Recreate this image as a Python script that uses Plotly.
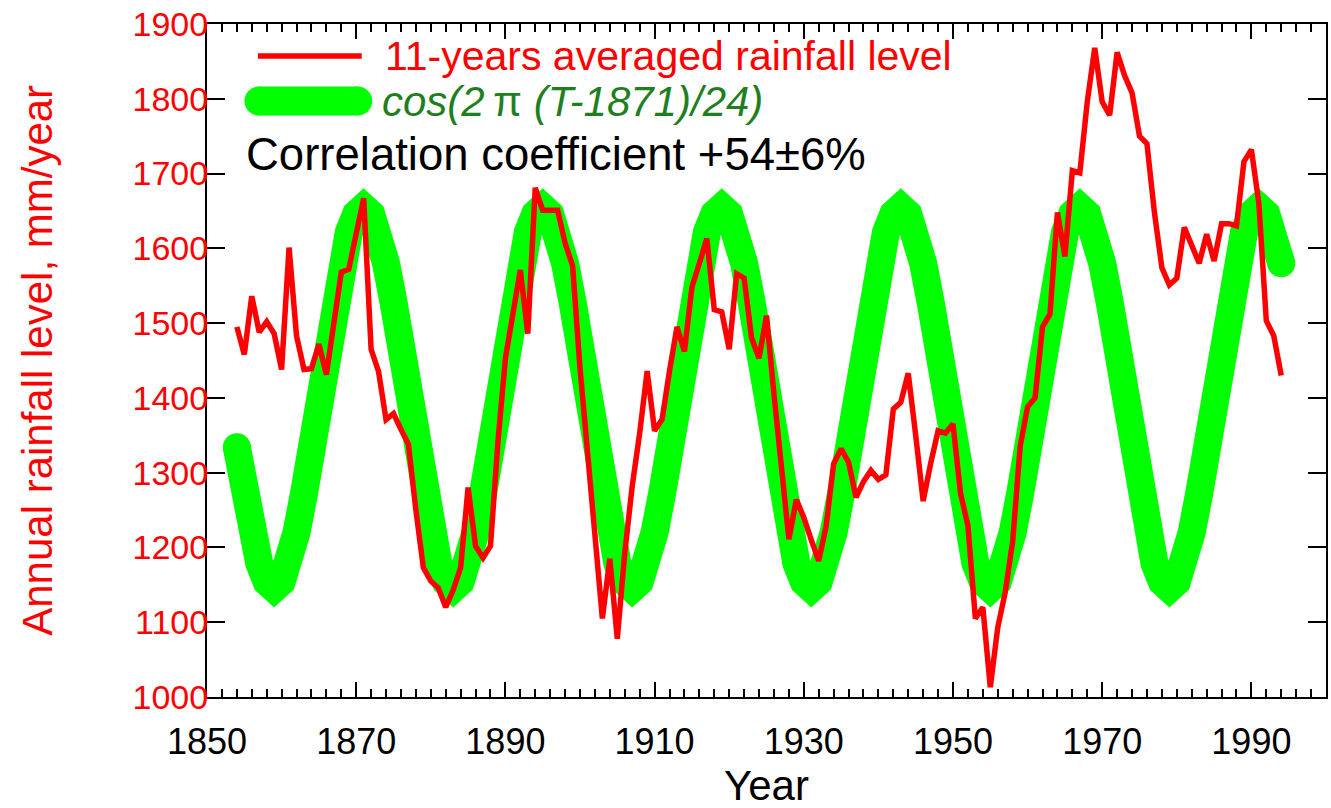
import plotly.graph_objects as go

# ---------------- data ----------------
years = list(range(1854, 1995))

rainfall_11yr = [
    1495, 1458, 1536, 1488, 1502, 1486, 1438, 1601, 1483, 1438,   # 1854-1863
    1439, 1472, 1431, 1505, 1568, 1572, 1619, 1667, 1465, 1435,   # 1864-1873
    1371, 1379, 1358, 1338, 1250, 1173, 1155, 1146, 1120, 1143,   # 1874-1883
    1173, 1280, 1202, 1186, 1202, 1341, 1453, 1512, 1571, 1486,   # 1884-1893
    1681, 1651, 1651, 1651, 1607, 1577, 1440, 1330, 1220, 1105,   # 1894-1903
    1185, 1078, 1193, 1282, 1353, 1436, 1356, 1371, 1436, 1495,   # 1904-1913
    1462, 1548, 1580, 1613, 1518, 1515, 1465, 1566, 1560, 1480,   # 1914-1923
    1453, 1510, 1405, 1300, 1211, 1264, 1240, 1210, 1182, 1229,   # 1924-1933
    1312, 1332, 1314, 1267, 1288, 1303, 1291, 1297, 1385, 1394,   # 1934-1943
    1433, 1350, 1262, 1312, 1356, 1353, 1365, 1273, 1229, 1105,   # 1944-1953
    1120, 1013, 1093, 1140, 1208, 1335, 1388, 1400, 1495, 1512,   # 1954-1963
    1648, 1589, 1704, 1701, 1796, 1868, 1796, 1778, 1862, 1831,   # 1964-1973
    1808, 1750, 1740, 1648, 1574, 1551, 1560, 1628, 1604, 1580,   # 1974-1983
    1619, 1583, 1633, 1633, 1630, 1716, 1732, 1660, 1503, 1483,   # 1984-1993
    1430,                                                         # 1994
]

cos_curve = [
    1334, 1272, 1220, 1179, 1154, 1145, 1154, 1179, 1220, 1272, 1334, 1400,   # 1854-1865
    1466, 1528, 1580, 1621, 1646, 1655, 1646, 1621, 1580, 1528, 1466, 1400,   # 1866-1877
    1334, 1272, 1220, 1179, 1154, 1145, 1154, 1179, 1220, 1272, 1334, 1400,   # 1878-1889
    1466, 1528, 1580, 1621, 1646, 1655, 1646, 1621, 1580, 1528, 1466, 1400,   # 1890-1901
    1334, 1272, 1220, 1179, 1154, 1145, 1154, 1179, 1220, 1272, 1334, 1400,   # 1902-1913
    1466, 1528, 1580, 1621, 1646, 1655, 1646, 1621, 1580, 1528, 1466, 1400,   # 1914-1925
    1334, 1272, 1220, 1179, 1154, 1145, 1154, 1179, 1220, 1272, 1334, 1400,   # 1926-1937
    1466, 1528, 1580, 1621, 1646, 1655, 1646, 1621, 1580, 1528, 1466, 1400,   # 1938-1949
    1334, 1272, 1220, 1179, 1154, 1145, 1154, 1179, 1220, 1272, 1334, 1400,   # 1950-1961
    1466, 1528, 1580, 1621, 1646, 1655, 1646, 1621, 1580, 1528, 1466, 1400,   # 1962-1973
    1334, 1272, 1220, 1179, 1154, 1145, 1154, 1179, 1220, 1272, 1334, 1400,   # 1974-1985
    1466, 1528, 1580, 1621, 1646, 1655, 1646, 1621, 1580,                     # 1986-1994
]

x_range = [1850, 2000]
y_range = [1000, 1900]

legend_red = "11-years averaged rainfall level"
legend_green = "<i>cos(2</i>\u2009\u03c0 <i>(T-1871)/24)</i>"
corr_text = "Correlation coefficient +54\u00b16%"
x_title = "Year"
y_title = "Annual rainfall level, mm/year"

# ---------------- styles ----------------
FONT = "Liberation Sans, Arial, Helvetica, sans-serif"
RED = "#ff0000"
LIME = "#00ff00"
DKGREEN = "#1f7f1f"
GREEN_W = 28

W, H = 1331, 808
L, R, T, B = 207, 3, 24, 111
PW, PH = W - L - R, H - T - B


def px(x):
    return (x - L) / PW


def py(y):
    return (H - B - y) / PH


fig = go.Figure()

fig.add_trace(go.Scatter(
    x=years, y=cos_curve, mode="lines",
    line=dict(color=LIME, width=GREEN_W), hoverinfo="skip", showlegend=False))
# round caps at the ends of the thick green curve
fig.add_trace(go.Scatter(
    x=[years[0], years[-1]], y=[cos_curve[0], cos_curve[-1]], mode="markers",
    marker=dict(color=LIME, size=GREEN_W, line=dict(width=0)),
    hoverinfo="skip", showlegend=False))
fig.add_trace(go.Scatter(
    x=years, y=rainfall_11yr, mode="lines",
    line=dict(color=RED, width=5.5), showlegend=False))

# ---------------- legend (drawn manually) ----------------
shapes = [
    dict(type="line", xref="paper", yref="paper",
         x0=px(258), x1=px(362), y0=py(56), y1=py(56),
         line=dict(color=RED, width=5.5)),
    dict(type="line", xref="paper", yref="paper",
         x0=px(259), x1=px(358), y0=py(101), y1=py(101),
         line=dict(color=LIME, width=29)),
]
for cx in (259, 358):
    shapes.append(dict(type="circle", xref="paper", yref="paper",
                       xsizemode="pixel", ysizemode="pixel",
                       xanchor=px(cx), yanchor=py(101),
                       x0=-14.5, x1=14.5, y0=-14.5, y1=14.5,
                       fillcolor=LIME, line=dict(width=0)))

annotations = [
    dict(text=legend_red, xref="paper", yref="paper", x=px(383), y=py(56),
         xanchor="left", yanchor="middle", showarrow=False,
         font=dict(family=FONT, size=41, color=RED)),
    dict(text=legend_green, xref="paper", yref="paper", x=px(380), y=py(101),
         xanchor="left", yanchor="middle", showarrow=False,
         font=dict(family=FONT, size=42, color=DKGREEN)),
    dict(text=corr_text, xref="paper", yref="paper", x=px(244), y=py(155),
         xanchor="left", yanchor="middle", showarrow=False,
         font=dict(family=FONT, size=45.5, color="black")),
    dict(text=x_title, xref="paper", yref="paper", x=0.5, y=py(785),
         xanchor="center", yanchor="middle", showarrow=False,
         font=dict(family=FONT, size=42, color="black")),
    dict(text=y_title, xref="paper", yref="paper", x=px(37), y=0.5,
         xanchor="center", yanchor="middle", showarrow=False, textangle=-90,
         font=dict(family=FONT, size=42, color=RED)),
]

fig.update_layout(
    width=W, height=H,
    margin=dict(l=L, r=R, t=T, b=B),
    paper_bgcolor="white", plot_bgcolor="white",
    showlegend=False,
    font=dict(family=FONT),
    shapes=shapes, annotations=annotations,
    xaxis=dict(
        range=x_range, tick0=1850, dtick=20,
        ticks="inside", ticklen=15, tickwidth=1.5, tickcolor="black",
        showline=True, linecolor="black", linewidth=2, mirror="allticks",
        showgrid=False, zeroline=False,
        tickfont=dict(family=FONT, size=36, color="black"),
        ticklabelstandoff=12,
        minor=dict(dtick=2, ticks="inside", ticklen=8, tickwidth=1.5,
                   tickcolor="black", showgrid=False),
    ),
    yaxis=dict(
        range=y_range, tick0=1000, dtick=100,
        ticks="inside", ticklen=18, tickwidth=1.5, tickcolor="black",
        showline=True, linecolor="black", linewidth=2, mirror="allticks",
        showgrid=False, zeroline=False,
        tickfont=dict(family=FONT, size=34, color=RED),
        ticklabelstandoff=-10,
    ),
)

fig.write_html("out.html")
